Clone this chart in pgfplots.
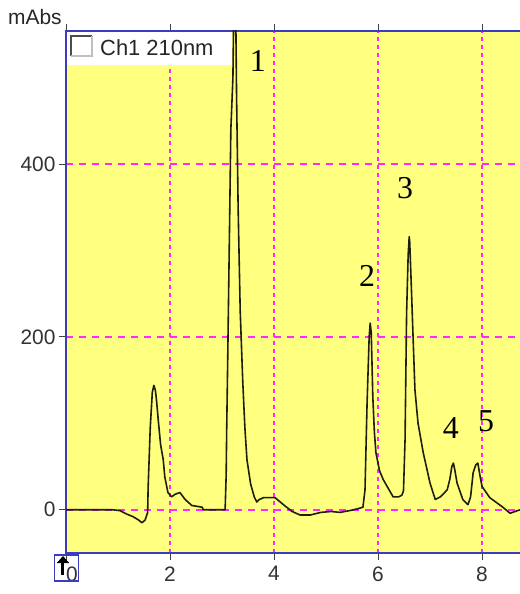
\documentclass[border=0pt]{standalone}
\usepackage{pgfplots}
\pgfplotsset{compat=1.18}
\usetikzlibrary{arrows.meta}
\usepackage{fontspec}
\setmainfont{Liberation Sans}
\newfontfamily\seriffont{Liberation Serif}
\definecolor{bgyellow}{RGB}{255,255,128}
\definecolor{gridmag}{RGB}{255,40,255}
\definecolor{frameblue}{RGB}{60,60,190}
\definecolor{tracec}{RGB}{30,30,10}
\definecolor{ticklab}{RGB}{50,50,50}
\begin{document}
\begin{tikzpicture}
\useasboundingbox (-66bp,-41bp) rectangle (454bp,553bp);
\begin{axis}[
  name=ax, at={(0,0)}, anchor=south west,
  scale only axis, width=460bp, height=522bp,
  xmin=0, xmax=8.846, ymin=-50, ymax=554,
  axis background/.style={fill=bgyellow},
  axis line style={frameblue, line width=1.5pt},
  xtick={0,2,4,6,8}, ytick={0,200,400},
  xticklabels={\makebox[0pt][l]{0},2,4,6,8},
  xmajorgrids, ymajorgrids,
  x grid style={gridmag, line width=1.5pt, dash pattern=on 4bp off 4bp},
  y grid style={gridmag, line width=1.5pt, dash pattern=on 7bp off 6bp},
  tick align=outside, major tick length=7bp,
  tick style={black!75, line width=1pt},
  every tick label/.append style={font=\fontsize{21}{21}\selectfont, text=ticklab},
  xticklabel style={yshift=-3bp},
  /pgf/number format/assume math mode=true,
  clip=true,
]
\addplot[tracec, line width=1.6pt, sharp plot, line join=round] coordinates {
(0,0) (0.5,0) (0.9,0) (1.04,-1) (1.17,-5) (1.29,-8) (1.40,-12) (1.46,-15) (1.52,-12) (1.56,-5) (1.57,-3) (1.58,27) (1.62,95) (1.66,136) (1.69,144) (1.72,138) (1.74,127) (1.78,100) (1.82,75) (1.87,58) (1.90,38) (1.96,20) (2.03,15) (2.10,18) (2.19,20) (2.29,12) (2.42,5) (2.62,3) (2.64,0) (3.06,0)
(3.08,40) (3.09,92) (3.11,175) (3.15,350) (3.17,440) (3.21,500) (3.235,620) (3.26,600) (3.28,480) (3.31,350) (3.35,230) (3.40,147) (3.44,95) (3.48,58) (3.55,30) (3.62,15) (3.67,9) (3.72,12) (3.80,14) (3.95,14) (4.02,14) (4.2,5) (4.35,-2) (4.5,-6) (4.7,-6) (4.9,-3) (5.1,-2) (5.27,-3) (5.45,-1) (5.6,1) (5.71,3)
(5.75,23) (5.79,124) (5.83,200) (5.85,216) (5.87,205) (5.90,131) (5.93,90) (5.96,66) (6.03,45) (6.10,35) (6.29,15) (6.40,15) (6.46,17) (6.49,22)
(6.52,81) (6.55,228) (6.58,295) (6.60,316) (6.61,310) (6.64,260) (6.68,190) (6.71,139) (6.77,100) (6.87,66) (7.0,31) (7.10,12) (7.2,15) (7.33,23) (7.38,35) (7.42,50) (7.45,54) (7.48,45) (7.52,31) (7.63,12) (7.73,6) (7.78,15) (7.83,43) (7.88,52) (7.92,54) (7.96,40) (8.0,27) (8.15,14) (8.4,3) (8.54,-4) (8.73,0) (8.85,0)
};
\node[font=\seriffont\fontsize{32}{32}\selectfont] at (axis cs:3.69,519) {1};
\node[font=\seriffont\fontsize{32}{32}\selectfont] at (axis cs:5.79,270) {2};
\node[font=\seriffont\fontsize{32}{32}\selectfont] at (axis cs:6.52,372) {3};
\node[font=\seriffont\fontsize{32}{32}\selectfont] at (axis cs:7.40,95) {4};
\node[font=\seriffont\fontsize{32}{32}\selectfont] at (axis cs:8.08,103) {5};
\end{axis}
% legend box
\fill[white] ([xshift=0.75bp,yshift=-0.75bp]ax.north west) rectangle ([xshift=166bp,yshift=-34bp]ax.north west);
\draw[frameblue, line width=1.5pt] (ax.north west) -- ([xshift=166bp]ax.north west);
\draw[black!70, line width=2pt] ([xshift=5bp,yshift=-25bp]ax.north west) -- ([xshift=5bp,yshift=-5bp]ax.north west) -- ([xshift=26bp,yshift=-5bp]ax.north west);
\draw[black!25, line width=1.2pt] ([xshift=26bp,yshift=-5bp]ax.north west) -- ([xshift=26bp,yshift=-25bp]ax.north west) -- ([xshift=5bp,yshift=-25bp]ax.north west);
\node[anchor=base west, inner sep=0, font=\fontsize{22}{22}\selectfont, text=black!85] at ([xshift=34bp,yshift=-25bp]ax.north west) {Ch1 210nm};
% unit label
\node[anchor=base west, inner sep=0, font=\fontsize{21}{21}\selectfont, text=black!85] at ([xshift=-58bp,yshift=6bp]ax.north west) {mAbs};
% small icon
\node[draw=frameblue, line width=1.5pt, minimum width=24bp, minimum height=26bp, inner sep=0] at ([xshift=0.5bp,yshift=-15bp]ax.south west) {};
\draw[black, line width=3bp, -{Triangle[width=12bp,length=7bp]}] ([xshift=-3bp,yshift=-22bp]ax.south west) -- ([xshift=-3bp,yshift=-3bp]ax.south west);
\end{tikzpicture}
\end{document}
